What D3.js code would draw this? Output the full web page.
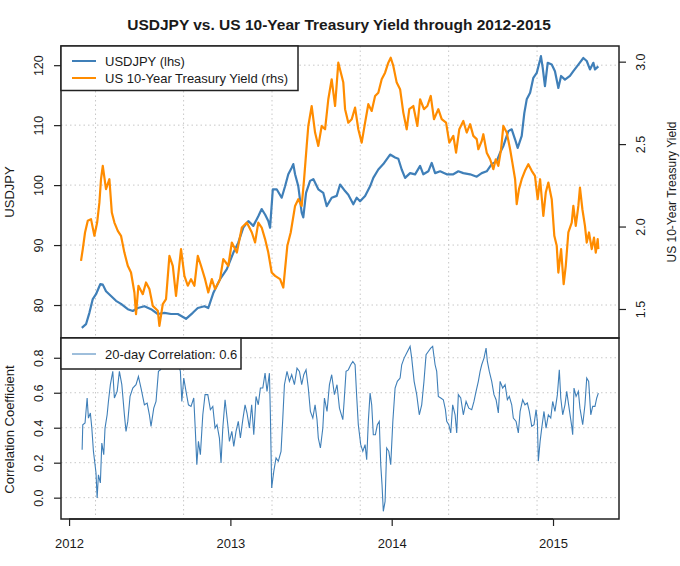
<!DOCTYPE html>
<html><head><meta charset="utf-8">
<script src="https://cdn.jsdelivr.net/npm/d3@7"></script>
<style>
body{margin:0;background:#fff;}
text{font-family:"Liberation Sans",Arial,sans-serif;fill:#1a1a1a;}
</style></head>
<body><svg id="c" width="680" height="566"></svg>
<script>
// ---- DATA (time as decimal year) ----
const usdjpy = [
[2012.079,76.2],[2012.105,76.8],[2012.126,78.7],[2012.147,81.0],[2012.167,81.8],[2012.194,83.5],[2012.209,83.4],[2012.229,82.3],
[2012.260,81.5],[2012.291,80.7],[2012.322,80.2],[2012.364,79.3],[2012.395,79.0],[2012.426,79.5],[2012.467,79.8],[2012.508,79.3],
[2012.550,78.5],[2012.591,78.7],[2012.632,78.5],[2012.674,78.5],[2012.725,77.7],[2012.767,78.7],[2012.798,79.5],[2012.839,79.8],
[2012.863,79.5],[2012.894,82.0],[2012.936,84.3],[2012.978,86.0],[2013.018,88.7],[2013.049,90.4],[2013.080,92.9],[2013.111,94.0],
[2013.142,93.2],[2013.173,94.8],[2013.194,96.0],[2013.215,95.1],[2013.235,94.0],[2013.246,92.9],[2013.263,99.3],[2013.287,99.3],
[2013.318,97.9],[2013.339,99.8],[2013.359,101.8],[2013.380,102.9],[2013.390,103.5],[2013.401,101.8],[2013.421,99.8],[2013.442,95.4],
[2013.452,94.6],[2013.469,98.7],[2013.494,100.7],[2013.514,101.0],[2013.545,99.3],[2013.576,98.7],[2013.597,96.5],[2013.628,97.9],
[2013.659,98.2],[2013.680,100.1],[2013.711,99.0],[2013.731,98.4],[2013.762,96.8],[2013.783,97.9],[2013.804,97.3],[2013.835,98.2],
[2013.866,99.8],[2013.886,101.2],[2013.917,102.6],[2013.948,103.5],[2013.990,105.1],[2014.021,104.6],[2014.041,104.4],[2014.062,102.6],
[2014.083,101.2],[2014.114,102.0],[2014.145,101.8],[2014.176,103.2],[2014.196,101.8],[2014.227,102.3],[2014.248,103.7],[2014.269,102.0],
[2014.300,102.3],[2014.341,101.8],[2014.382,101.8],[2014.413,102.3],[2014.444,102.0],[2014.486,101.8],[2014.527,101.4],[2014.558,102.0],
[2014.589,102.3],[2014.620,103.5],[2014.651,104.0],[2014.672,105.4],[2014.692,106.5],[2014.723,109.0],[2014.744,109.3],[2014.765,107.6],
[2014.781,106.2],[2014.806,108.2],[2014.822,112.0],[2014.837,114.3],[2014.858,115.4],[2014.878,117.9],[2014.899,118.7],[2014.920,120.9],
[2014.925,121.5],[2014.936,119.6],[2014.950,116.5],[2014.967,120.4],[2014.992,120.1],[2015.012,119.0],[2015.033,116.2],[2015.050,118.2],
[2015.074,117.6],[2015.105,118.2],[2015.126,119.0],[2015.157,120.1],[2015.188,121.2],[2015.209,120.7],[2015.229,119.3],[2015.250,120.4],
[2015.260,119.3],[2015.281,119.8]
];
const yield10 = [
[2012.074,1.792],[2012.085,1.863],[2012.099,1.964],[2012.116,2.035],[2012.136,2.045],[2012.157,1.944],[2012.174,2.024],[2012.188,2.145],
[2012.198,2.287],[2012.209,2.368],[2012.229,2.227],[2012.250,2.287],[2012.265,2.085],[2012.281,2.024],[2012.302,1.974],[2012.322,1.944],
[2012.343,1.842],[2012.364,1.762],[2012.384,1.721],[2012.405,1.600],[2012.415,1.469],[2012.430,1.641],[2012.457,1.590],[2012.477,1.661],
[2012.498,1.621],[2012.519,1.519],[2012.550,1.489],[2012.560,1.398],[2012.581,1.530],[2012.601,1.560],[2012.622,1.822],[2012.643,1.762],
[2012.663,1.580],[2012.694,1.863],[2012.715,1.701],[2012.736,1.641],[2012.756,1.681],[2012.777,1.641],[2012.798,1.822],[2012.818,1.762],
[2012.843,1.681],[2012.863,1.600],[2012.885,1.681],[2012.905,1.621],[2012.936,1.681],[2012.956,1.802],[2012.987,1.762],[2013.009,1.903],
[2013.040,1.842],[2013.071,1.994],[2013.102,2.024],[2013.133,1.964],[2013.153,1.903],[2013.173,2.024],[2013.194,1.994],[2013.215,1.924],
[2013.235,1.842],[2013.256,1.721],[2013.277,1.701],[2013.308,1.681],[2013.328,1.630],[2013.339,1.742],[2013.353,1.883],[2013.374,1.964],
[2013.401,2.125],[2013.421,2.166],[2013.442,2.125],[2013.457,2.287],[2013.473,2.489],[2013.483,2.610],[2013.504,2.731],[2013.525,2.570],
[2013.545,2.489],[2013.566,2.610],[2013.587,2.590],[2013.607,2.772],[2013.628,2.893],[2013.649,2.731],[2013.669,2.994],[2013.690,2.913],
[2013.700,2.873],[2013.711,2.712],[2013.731,2.630],[2013.752,2.651],[2013.773,2.721],[2013.793,2.590],[2013.814,2.509],[2013.835,2.630],
[2013.855,2.742],[2013.876,2.701],[2013.897,2.792],[2013.917,2.812],[2013.938,2.893],[2013.959,2.933],[2013.979,2.994],[2013.994,3.024],
[2014.010,2.974],[2014.031,2.873],[2014.052,2.833],[2014.072,2.691],[2014.093,2.590],[2014.109,2.712],[2014.134,2.731],[2014.159,2.610],
[2014.176,2.772],[2014.200,2.712],[2014.221,2.731],[2014.242,2.792],[2014.262,2.651],[2014.289,2.712],[2014.310,2.651],[2014.337,2.630],
[2014.357,2.509],[2014.382,2.550],[2014.399,2.448],[2014.419,2.590],[2014.444,2.640],[2014.465,2.570],[2014.486,2.621],[2014.506,2.550],
[2014.527,2.530],[2014.537,2.469],[2014.558,2.519],[2014.568,2.560],[2014.589,2.448],[2014.610,2.408],[2014.630,2.348],[2014.645,2.408],
[2014.661,2.368],[2014.678,2.469],[2014.692,2.610],[2014.713,2.570],[2014.734,2.469],[2014.748,2.388],[2014.765,2.287],[2014.775,2.136],
[2014.789,2.227],[2014.806,2.287],[2014.826,2.338],[2014.847,2.378],[2014.868,2.338],[2014.888,2.307],[2014.905,2.166],[2014.920,2.287],
[2014.940,2.065],[2014.955,2.206],[2014.971,2.267],[2014.992,2.166],[2015.008,1.944],[2015.023,1.883],[2015.033,1.721],[2015.050,1.863],
[2015.066,1.651],[2015.079,1.762],[2015.095,1.964],[2015.116,2.024],[2015.126,2.125],[2015.141,2.004],[2015.157,2.125],[2015.167,2.236],
[2015.182,2.105],[2015.198,2.004],[2015.209,1.903],[2015.223,1.964],[2015.240,1.863],[2015.254,1.933],[2015.265,1.842],[2015.277,1.924],
[2015.281,1.863]
];
const corr20 = [
[2012.081,0.274],[2012.085,0.417],[2012.099,0.427],[2012.112,0.570],[2012.120,0.455],[2012.132,0.484],[2012.141,0.398],[2012.151,0.265],
[2012.161,0.189],[2012.167,0.141],[2012.174,-0.002],[2012.182,0.131],[2012.194,0.084],[2012.203,0.312],[2012.215,0.246],[2012.223,0.398],
[2012.236,0.474],[2012.244,0.550],[2012.256,0.646],[2012.271,0.722],[2012.281,0.570],[2012.298,0.608],[2012.312,0.722],[2012.327,0.646],
[2012.343,0.474],[2012.353,0.379],[2012.364,0.436],[2012.378,0.579],[2012.395,0.627],[2012.415,0.646],[2012.430,0.693],[2012.446,0.627],
[2012.467,0.531],[2012.484,0.541],[2012.498,0.474],[2012.508,0.408],[2012.525,0.512],[2012.539,0.550],[2012.554,0.722],[2012.566,0.731],
[2012.595,0.780],[2012.626,0.760],[2012.657,0.800],[2012.679,0.760],[2012.690,0.722],[2012.699,0.550],[2012.711,0.684],[2012.725,0.608],
[2012.740,0.531],[2012.756,0.522],[2012.773,0.570],[2012.783,0.379],[2012.792,0.189],[2012.802,0.322],[2012.814,0.246],[2012.829,0.474],
[2012.843,0.589],[2012.860,0.589],[2012.876,0.503],[2012.891,0.522],[2012.905,0.398],[2012.917,0.417],[2012.932,0.341],[2012.942,0.198],
[2012.953,0.398],[2012.967,0.560],[2012.984,0.417],[2012.994,0.322],[2013.009,0.379],[2013.021,0.293],[2013.035,0.379],[2013.049,0.436],
[2013.062,0.341],[2013.077,0.446],[2013.091,0.531],[2013.103,0.484],[2013.118,0.398],[2013.132,0.531],[2013.145,0.360],[2013.159,0.579],
[2013.173,0.531],[2013.186,0.627],[2013.201,0.627],[2013.215,0.712],[2013.227,0.608],[2013.242,0.712],[2013.248,0.474],[2013.256,0.055],
[2013.269,0.150],[2013.283,0.227],[2013.297,0.208],[2013.314,0.265],[2013.325,0.455],[2013.335,0.646],[2013.351,0.722],[2013.366,0.665],
[2013.380,0.703],[2013.397,0.646],[2013.413,0.741],[2013.428,0.722],[2013.442,0.646],[2013.455,0.703],[2013.469,0.731],[2013.483,0.627],
[2013.496,0.493],[2013.511,0.455],[2013.525,0.531],[2013.537,0.446],[2013.545,0.341],[2013.558,0.284],[2013.573,0.398],[2013.583,0.570],
[2013.599,0.493],[2013.614,0.646],[2013.628,0.703],[2013.645,0.589],[2013.661,0.646],[2013.676,0.512],[2013.697,0.446],[2013.705,0.550],
[2013.717,0.722],[2013.731,0.731],[2013.746,0.760],[2013.759,0.779],[2013.773,0.760],[2013.783,0.579],[2013.793,0.417],[2013.808,0.303],
[2013.821,0.265],[2013.835,0.303],[2013.845,0.217],[2013.855,0.436],[2013.866,0.598],[2013.876,0.531],[2013.886,0.360],[2013.899,0.360],
[2013.911,0.417],[2013.923,0.436],[2013.932,0.189],[2013.940,0.074],[2013.948,-0.078],[2013.959,-0.021],[2013.969,0.284],[2013.982,0.265],
[2013.994,0.189],[2014.007,0.436],[2014.021,0.627],[2014.035,0.665],[2014.052,0.684],[2014.062,0.760],[2014.077,0.798],[2014.093,0.827],
[2014.114,0.865],[2014.124,0.798],[2014.139,0.665],[2014.155,0.589],[2014.171,0.474],[2014.186,0.531],[2014.200,0.665],[2014.213,0.817],
[2014.227,0.836],[2014.242,0.855],[2014.254,0.865],[2014.269,0.760],[2014.279,0.722],[2014.289,0.579],[2014.304,0.570],[2014.320,0.560],
[2014.333,0.503],[2014.341,0.436],[2014.354,0.417],[2014.366,0.370],[2014.378,0.531],[2014.393,0.474],[2014.403,0.370],[2014.413,0.589],
[2014.428,0.570],[2014.444,0.474],[2014.461,0.550],[2014.478,0.512],[2014.496,0.503],[2014.510,0.550],[2014.523,0.608],[2014.537,0.665],
[2014.548,0.722],[2014.558,0.760],[2014.572,0.798],[2014.585,0.855],[2014.593,0.779],[2014.605,0.722],[2014.620,0.665],[2014.634,0.589],
[2014.647,0.560],[2014.661,0.484],[2014.672,0.665],[2014.688,0.627],[2014.703,0.646],[2014.717,0.560],[2014.729,0.579],[2014.744,0.531],
[2014.754,0.455],[2014.771,0.436],[2014.785,0.370],[2014.796,0.493],[2014.812,0.560],[2014.826,0.531],[2014.841,0.541],[2014.853,0.493],
[2014.868,0.408],[2014.882,0.417],[2014.895,0.503],[2014.903,0.436],[2014.909,0.208],[2014.920,0.322],[2014.930,0.398],[2014.944,0.493],
[2014.957,0.398],[2014.971,0.474],[2014.986,0.455],[2014.998,0.550],[2015.012,0.493],[2015.027,0.589],[2015.039,0.731],[2015.048,0.570],
[2015.060,0.474],[2015.074,0.531],[2015.085,0.608],[2015.101,0.503],[2015.116,0.408],[2015.122,0.360],[2015.130,0.627],[2015.143,0.579],
[2015.157,0.608],[2015.167,0.512],[2015.184,0.417],[2015.198,0.531],[2015.209,0.684],[2015.221,0.665],[2015.234,0.474],[2015.246,0.522],
[2015.260,0.522],[2015.271,0.570],[2015.281,0.598]
];
const usdjpyTicks = [80, 90, 100, 110, 120];
const yieldTicks = [1.5, 2.0, 2.5, 3.0];
const corrTicks = [0.0, 0.2, 0.4, 0.6, 0.8];
const yearTicks = [2012, 2013, 2014, 2015];
const gridYears = [2012.164, 2012.710, 2013.258, 2013.805, 2014.353, 2014.901];
const titleText = "USDJPY vs. US 10-Year Treasury Yield through 2012-2015";
const legendTop = ["USDJPY (lhs)", "US 10-Year Treasury Yield (rhs)"];
const legendBottom = ["20-day Correlation: 0.6"];

// ---- LAYOUT ----
const L = 61, R = 619, T1 = 46, B1 = 338, T2 = 338, B2 = 519;
const blue = "#3f7fb8", orange = "#ff8c00", gridCol = "#c8c8c8", frame = "#222";

const svg = d3.select("#c");
const x = d3.scaleLinear().domain([2011.950, 2015.409]).range([L, R]);
const yL = d3.scaleLinear().domain([74.5, 123.2]).range([B1, T1]);
const yR = d3.scaleLinear().domain([1.324, 3.095]).range([B1, T1]);
const yC = d3.scaleLinear().domain([-0.122, 0.913]).range([B2, T2]);

const defs = svg.append("defs");
defs.append("clipPath").attr("id","clipTop").append("rect").attr("x",L).attr("y",T1).attr("width",R-L).attr("height",B1-T1);
defs.append("clipPath").attr("id","clipBot").append("rect").attr("x",L).attr("y",T2).attr("width",R-L).attr("height",B2-T2);

// title
svg.append("text").attr("x", 339).attr("y", 30).attr("text-anchor","middle")
  .style("font-size","15.5px").style("font-weight","bold").text(titleText);

// grids
function grid(yScale, ticks, top, bot) {
  const g = svg.append("g").attr("stroke", gridCol).attr("stroke-dasharray","1.5,3").attr("stroke-width",1);
  g.selectAll("line.h").data(ticks).join("line").attr("class","h")
    .attr("x1",L).attr("x2",R).attr("y1",d=>yScale(d)).attr("y2",d=>yScale(d));
  g.selectAll("line.v").data(gridYears).join("line").attr("class","v")
    .attr("x1",d=>x(d)).attr("x2",d=>x(d)).attr("y1",top).attr("y2",bot);
}
grid(yL, usdjpyTicks, T1, B1);
grid(yC, corrTicks, T2, B2);

// lines
const curve = d3.curveLinear;
svg.append("path").datum(usdjpy).attr("clip-path","url(#clipTop)")
  .attr("fill","none").attr("stroke",blue).attr("stroke-width",2.2).attr("stroke-linejoin","round")
  .attr("d", d3.line().curve(curve).x(d=>x(d[0])).y(d=>yL(d[1])));
svg.append("path").datum(yield10).attr("clip-path","url(#clipTop)")
  .attr("fill","none").attr("stroke",orange).attr("stroke-width",2.2).attr("stroke-linejoin","round")
  .attr("d", d3.line().curve(curve).x(d=>x(d[0])).y(d=>yR(d[1])));
svg.append("path").datum(corr20).attr("clip-path","url(#clipBot)")
  .attr("fill","none").attr("stroke",blue).attr("stroke-width",1.1)
  .attr("d", d3.line().curve(curve).x(d=>x(d[0])).y(d=>yC(d[1])));

// axes
function styleAxis(g) {
  g.select(".domain").remove();
  g.selectAll(".tick line").attr("stroke", frame).attr("stroke-width",1.2);
  g.selectAll(".tick text").style("font-size","12.5px").attr("fill","#1a1a1a")
    .style("font-family","'Liberation Sans',Arial,sans-serif");
}
const axL = svg.append("g").attr("transform",`translate(${L},0)`)
  .call(d3.axisLeft(yL).tickValues(usdjpyTicks).tickSize(7).tickSizeOuter(0).tickFormat(d3.format("d")));
styleAxis(axL);
axL.selectAll(".tick text").attr("x",null).attr("dy",null).attr("text-anchor","middle").attr("transform","translate(-18,0) rotate(-90)");

const axR = svg.append("g").attr("transform",`translate(${R},0)`)
  .call(d3.axisRight(yR).tickValues(yieldTicks).tickSize(7).tickSizeOuter(0).tickFormat(d3.format(".1f")));
styleAxis(axR);
axR.selectAll(".tick text").attr("x",null).attr("dy",null).attr("text-anchor","middle").attr("transform","translate(26,0) rotate(-90)");

const axC = svg.append("g").attr("transform",`translate(${L},0)`)
  .call(d3.axisLeft(yC).tickValues(corrTicks).tickSize(7).tickSizeOuter(0).tickFormat(d3.format(".1f")));
styleAxis(axC);
axC.selectAll(".tick text").attr("x",null).attr("dy",null).attr("text-anchor","middle").attr("transform","translate(-18,0) rotate(-90)");

const axX = svg.append("g").attr("transform",`translate(0,${B2})`)
  .call(d3.axisBottom(x).tickValues(yearTicks).tickSize(7).tickSizeOuter(0).tickFormat(d3.format("d")));
styleAxis(axX);
axX.selectAll(".tick text").attr("y",29).attr("dy",null).style("font-size","13px");
svg.append("line").attr("x1",x(2012)).attr("x2",x(2015)).attr("y1",B2).attr("y2",B2).attr("stroke",frame).attr("stroke-width",1.5);

// axis titles
svg.append("text").attr("transform",`translate(14,${(T1+B1)/2}) rotate(-90)`).attr("text-anchor","middle")
  .style("font-size","13px").text("USDJPY");
svg.append("text").attr("transform",`translate(14,${(T2+B2)/2+1}) rotate(-90)`).attr("text-anchor","middle")
  .style("font-size","13px").text("Correlation Coefficient");
svg.append("text").attr("transform",`translate(676,${(T1+B1)/2}) rotate(-90)`).attr("text-anchor","middle")
  .style("font-size","12px").text("US 10-Year Treasury Yield");

// frames
svg.append("rect").attr("x",L).attr("y",T1).attr("width",R-L).attr("height",B1-T1).attr("fill","none").attr("stroke",frame).attr("stroke-width",1.5);
svg.append("rect").attr("x",L).attr("y",T2).attr("width",R-L).attr("height",B2-T2).attr("fill","none").attr("stroke",frame).attr("stroke-width",1.5);

// legends
const lg1 = svg.append("g");
lg1.append("rect").attr("x",L).attr("y",T1).attr("width",237).attr("height",44.5).attr("fill","#fff").attr("stroke",frame).attr("stroke-width",1.5);
[blue, orange].forEach((c,i)=>{
  const yy = T1 + 15 + i*17;
  lg1.append("line").attr("x1",72).attr("x2",96).attr("y1",yy).attr("y2",yy).attr("stroke",c).attr("stroke-width",2);
  lg1.append("text").attr("x",105).attr("y",yy+4.5).style("font-size","13px").text(legendTop[i]);
});
const lg2 = svg.append("g");
lg2.append("rect").attr("x",L).attr("y",T2).attr("width",180).attr("height",31).attr("fill","#fff").attr("stroke",frame).attr("stroke-width",1.5);
lg2.append("line").attr("x1",72).attr("x2",96).attr("y1",T2+16).attr("y2",T2+16).attr("stroke",blue).attr("stroke-width",1);
lg2.append("text").attr("x",105).attr("y",T2+20.5).style("font-size","13px").text(legendBottom[0]);
</script></body></html>
